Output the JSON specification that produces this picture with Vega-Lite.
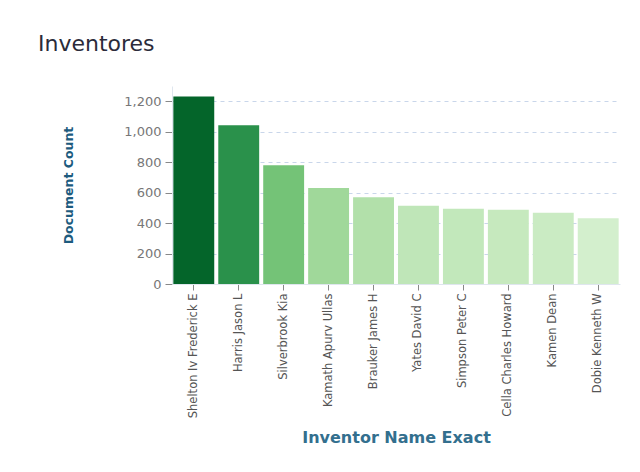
{
  "$schema": "https://vega.github.io/schema/vega-lite/v6.json",
  "autosize": "none",
  "width": 448,
  "height": 198,
  "padding": {"left": 172, "top": 86, "right": 20, "bottom": 188},
  "background": "white",
  "title": {
    "text": "Inventores",
    "anchor": "start",
    "frame": "group",
    "dx": -134,
    "offset": 30,
    "font": "DejaVu Sans",
    "fontSize": 22,
    "fontWeight": "normal",
    "color": "#2b2b3a"
  },
  "data": {
    "values": [
      {"inventor": "Shelton Iv Frederick E", "count": 1231},
      {"inventor": "Harris Jason L", "count": 1043},
      {"inventor": "Silverbrook Kia", "count": 780},
      {"inventor": "Kamath Apurv Ullas", "count": 630},
      {"inventor": "Brauker James H", "count": 570},
      {"inventor": "Yates David C", "count": 513},
      {"inventor": "Simpson Peter C", "count": 494},
      {"inventor": "Cella Charles Howard", "count": 487},
      {"inventor": "Kamen Dean", "count": 467},
      {"inventor": "Dobie Kenneth W", "count": 431}
    ]
  },
  "mark": {"type": "bar"},
  "encoding": {
    "x": {
      "field": "inventor",
      "type": "nominal",
      "sort": null,
      "scale": {"paddingInner": 0.09, "paddingOuter": 0.03},
      "axis": {
        "title": "Inventor Name Exact",
        "titleFont": "DejaVu Sans",
        "titleFontSize": 16,
        "titleFontWeight": "bold",
        "titleColor": "#336f8e",
        "titleY": 153,
        "titleBaseline": "middle",
        "labelAngle": -90,
        "labelAlign": "right",
        "labelBaseline": "middle",
        "labelFont": "DejaVu Sans",
        "labelFontSize": 11.5,
        "labelColor": "#555555",
        "labelPadding": 3,
        "tickColor": "#888888",
        "tickSize": 6,
        "domainColor": "#dfe6ee",
        "grid": false
      }
    },
    "y": {
      "field": "count",
      "type": "quantitative",
      "scale": {"domain": [0, 1300], "nice": false},
      "axis": {
        "title": "Document Count",
        "titleFont": "DejaVu Sans",
        "titleFontSize": 12.5,
        "titleFontWeight": "bold",
        "titleColor": "#1d5b7e",
        "titleAngle": -90,
        "titleX": -104,
        "titleY": 99,
        "titleAlign": "center",
        "titleBaseline": "middle",
        "values": [0, 200, 400, 600, 800, 1000, 1200],
        "format": ",d",
        "labelFont": "DejaVu Sans",
        "labelFontSize": 13,
        "labelColor": "#777777",
        "labelPadding": 4,
        "tickColor": "#888888",
        "tickSize": 7,
        "domainColor": "#dfe6ee",
        "grid": true,
        "gridColor": "#c9d6ea",
        "gridDash": [4, 4],
        "gridWidth": 1
      }
    },
    "color": {
      "field": "inventor",
      "type": "nominal",
      "legend": null,
      "scale": {
        "domain": ["Shelton Iv Frederick E", "Harris Jason L", "Silverbrook Kia", "Kamath Apurv Ullas", "Brauker James H", "Yates David C", "Simpson Peter C", "Cella Charles Howard", "Kamen Dean", "Dobie Kenneth W"],
        "range": ["#04652a", "#2a914b", "#74c377", "#a0d89a", "#b2e0aa", "#bfe6b8", "#c2e8bb", "#c6e9be", "#caebc3", "#d3efcd"]
      }
    }
  },
  "config": {"view": {"stroke": null}}
}
